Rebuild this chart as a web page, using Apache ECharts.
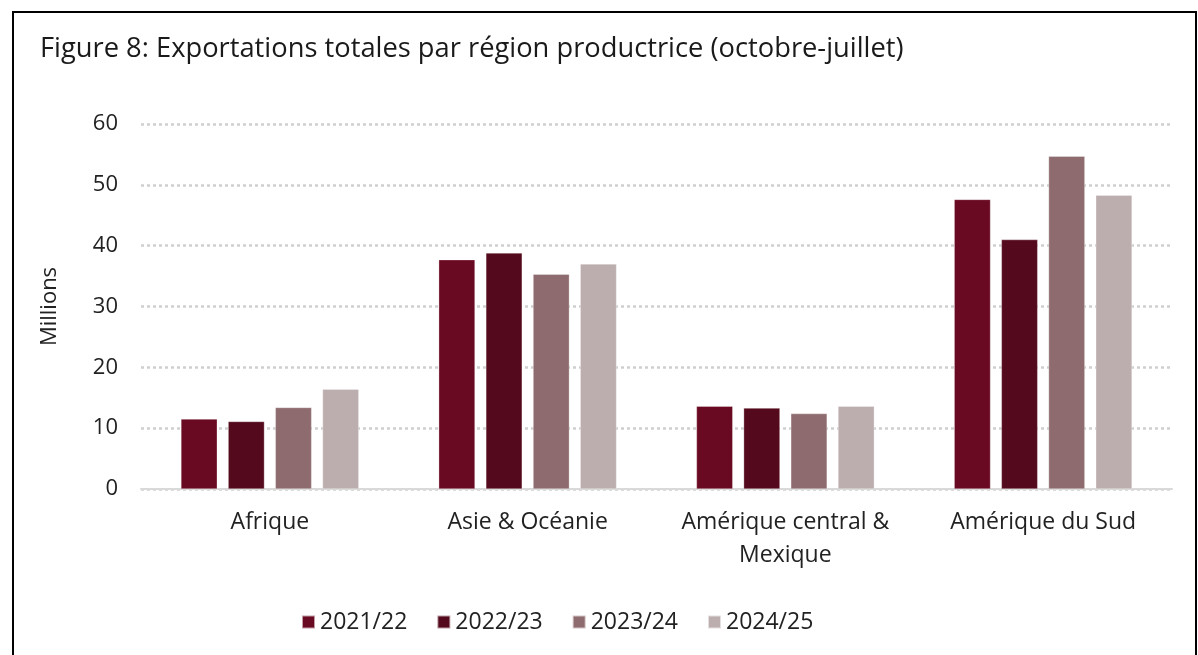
<!DOCTYPE html>
<html><head><meta charset="utf-8">
<script src="https://cdn.jsdelivr.net/npm/echarts@6/dist/echarts.min.js"></script>
<style>html,body{margin:0;padding:0;background:#fff}#c{width:1198px;height:655px}</style>
</head><body><div id="c"></div>
<script>
const categories = ['Afrique', 'Asie & Océanie', 'Amérique central &\nMexique', 'Amérique du Sud'];
const seriesNames = ['2021/22', '2022/23', '2023/24', '2024/25'];
const v2021 = [11.5, 37.7, 13.6, 47.6];
const v2022 = [11.1, 38.8, 13.3, 41.0];
const v2023 = [13.4, 35.3, 12.4, 54.7];
const v2024 = [16.4, 37.0, 13.6, 48.3];
const colors = ['#6a0a22', '#540a1c', '#8e6b6e', '#bcaeae'];
const values = [v2021, v2022, v2023, v2024];
const FONT = '"Open Sans", sans-serif';

const chart = echarts.init(document.getElementById('c'), null, {renderer: 'canvas'});
chart.setOption({
  animation: false,
  backgroundColor: '#fff',
  textStyle: {fontFamily: FONT},
  title: {
    text: 'Figure 8: Exportations totales par région productrice (octobre-juillet)',
    left: 35, top: 31,
    textStyle: {fontFamily: FONT, fontSize: 27.3, fontWeight: 'normal', color: '#1a1a1a'}
  },
  graphic: [{
    type: 'rect', shape: {x: 13, y: 12, width: 1183, height: 700},
    style: {fill: 'none', stroke: '#000', lineWidth: 2}, silent: true
  }],
  legend: {
    top: 603, left: 296,
    itemWidth: 13, itemHeight: 13, itemGap: 29,
    icon: 'rect',
    textStyle: {fontFamily: FONT, fontSize: 23, color: '#222', lineHeight: 28},
    data: seriesNames
  },
  grid: {left: 141, right: 26, top: 124, bottom: 166, containLabel: false},
  xAxis: {
    type: 'category', data: categories,
    axisLine: {lineStyle: {color: '#d9d9d9', width: 2}},
    axisTick: {show: false},
    axisLabel: {fontFamily: FONT, fontSize: 23, color: '#222', margin: 17, lineHeight: 33, interval: 0}
  },
  yAxis: {
    type: 'value', min: 0, max: 60, interval: 10,
    name: 'Millions', nameLocation: 'middle', nameGap: 80, nameRotate: 90,
    nameTextStyle: {fontFamily: FONT, fontSize: 22, color: '#222'},
    axisLine: {show: false}, axisTick: {show: false},
    axisLabel: {fontFamily: FONT, fontSize: 22, color: '#222', margin: 23},
    splitLine: {lineStyle: {color: '#cfcfcf', width: 2.5, type: [3, 3]}}
  },
  series: values.map((d, i) => ({
    name: seriesNames[i], type: 'bar', data: d,
    barGap: '30%', barCategoryGap: '31%',
    itemStyle: {color: colors[i], borderColor: 'rgba(255,255,255,0.6)', borderWidth: 0.5}
  }))
});
</script></body></html>
